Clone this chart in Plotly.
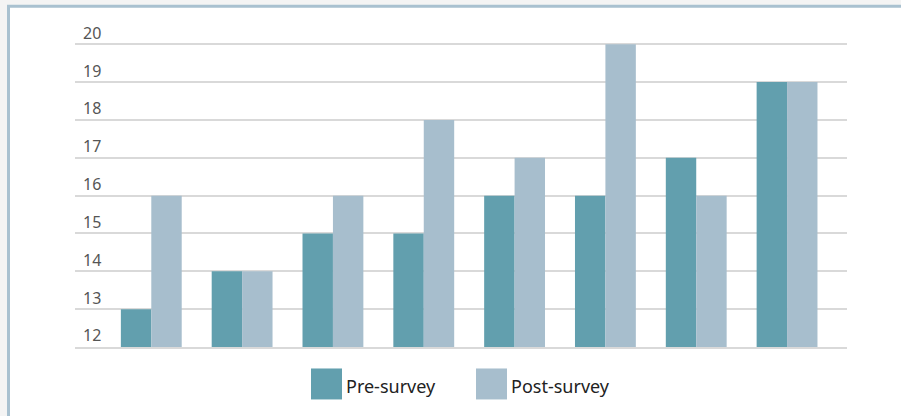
import plotly.graph_objects as go

categories = ["1", "2", "3", "4", "5", "6", "7", "8"]
pre_survey = [13, 14, 15, 15, 16, 16, 17, 19]
post_survey = [16, 14, 16, 18, 17, 20, 16, 19]
series_names = ["Pre-survey", "Post-survey"]
y_ticks = [12, 13, 14, 15, 16, 17, 18, 19, 20]

PRE_COLOR = "#629fae"
POST_COLOR = "#a7becd"
GRID = "#d9d9d9"
W, H = 901, 416
L, R, T, B = 75, 54, 14.2, 68.5
PW, PH = W - L - R, H - T - B


def px_x(px):
    return (px - L) / PW


def px_y(py):
    return (H - B - py) / PH


fig = go.Figure()
fig.add_trace(go.Bar(x=list(range(len(categories))), y=pre_survey, name=series_names[0],
                     marker=dict(color=PRE_COLOR, line=dict(width=0))))
fig.add_trace(go.Bar(x=list(range(len(categories))), y=post_survey, name=series_names[1],
                     marker=dict(color=POST_COLOR, line=dict(width=0))))

shapes = [
    dict(type="rect", xref="paper", yref="paper", layer="below",
         x0=px_x(8.5), x1=px_x(920), y0=px_y(6.5), y1=px_y(440),
         fillcolor="white", line=dict(color="#a9c1d0", width=3)),
]
annotations = []
legend_items = [(311, 344, PRE_COLOR, series_names[0]), (476, 509, POST_COLOR, series_names[1])]
for sx, tx, col, name in legend_items:
    shapes.append(dict(type="rect", xref="paper", yref="paper",
                       x0=px_x(sx), x1=px_x(sx + 31), y0=px_y(369), y1=px_y(400),
                       fillcolor=col, line=dict(width=0)))
    annotations.append(dict(xref="paper", yref="paper", x=px_x(tx), y=px_y(387),
                            xanchor="left", yanchor="middle", showarrow=False,
                            text=name, font=dict(size=18, color="#222222", family="Noto Sans")))

fig.update_layout(
    width=W, height=H,
    margin=dict(l=L, r=R, t=T, b=B, pad=0),
    paper_bgcolor="#f4f4f4",
    plot_bgcolor="white",
    barmode="group",
    bargap=0.33,
    bargroupgap=0,
    showlegend=False,
    font=dict(family="Noto Sans", color="#555555", size=16),
    xaxis=dict(range=[-0.84, 7.66], showticklabels=False, showgrid=False,
               zeroline=False, showline=True, linecolor=GRID, linewidth=1.5, ticks=""),
    yaxis=dict(range=[12, 20.8], tickvals=y_ticks, ticktext=[str(v) for v in y_ticks],
               ticklabelposition="inside top", ticklabelstandoff=5,
               showgrid=True, gridcolor=GRID, gridwidth=1.5,
               zeroline=False, showline=False, ticks="",
               tickfont=dict(size=16, color="#555555")),
    shapes=shapes,
    annotations=annotations,
)

fig.write_html("out.html")
